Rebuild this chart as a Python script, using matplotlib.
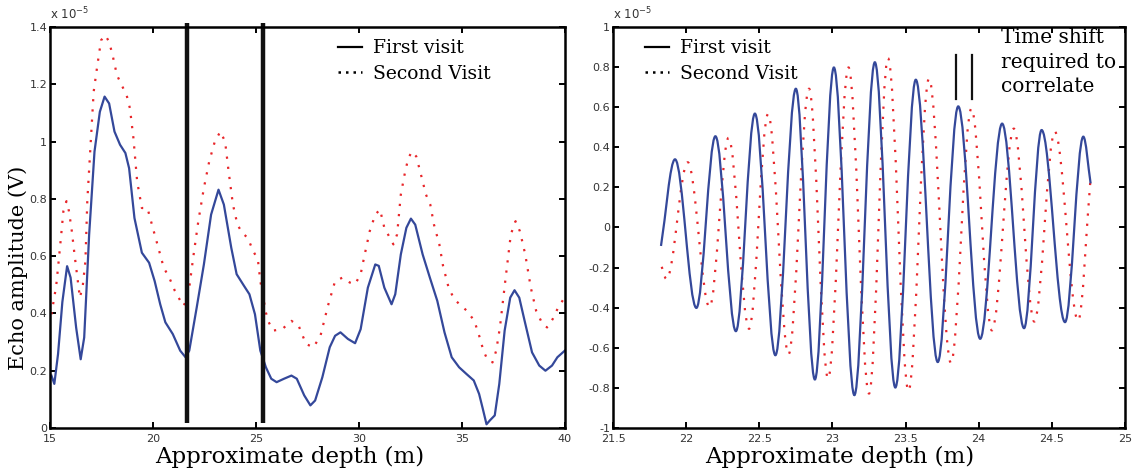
import numpy as np
import matplotlib
matplotlib.use("Agg")
import matplotlib.pyplot as plt
from matplotlib.path import Path
from matplotlib.patches import PathPatch
from matplotlib.lines import Line2D
from matplotlib.ticker import FuncFormatter, MultipleLocator

#########################
# Data (amplitudes in units of 1e-5 V)
# left panel, first visit (solid blue)
depth_first = [15.07, 15.21, 15.39, 15.6, 15.83, 16.0, 16.27, 16.49, 16.66, 16.9,
               17.16, 17.42, 17.65, 17.87, 18.13, 18.4, 18.66, 18.84, 19.1, 19.46,
               19.81, 20.08, 20.35, 20.6, 20.96, 21.32, 21.58, 21.76, 22.12, 22.47,
               22.82, 23.18, 23.44, 23.8, 24.06, 24.42, 24.68, 24.95, 25.21, 25.48,
               25.74, 26.0, 26.36, 26.72, 26.98, 27.34, 27.64, 27.87, 28.22, 28.58,
               28.84, 29.1, 29.46, 29.81, 30.08, 30.43, 30.79, 30.96, 31.23, 31.58,
               31.76, 32.03, 32.3, 32.52, 32.73, 33.09, 33.44, 33.8, 34.15, 34.5,
               34.86, 35.21, 35.57, 35.83, 36.01, 36.19, 36.36, 36.59, 36.81, 37.07,
               37.34, 37.55, 37.78, 38.04, 38.4, 38.75, 39.05, 39.37, 39.63, 39.99]
amp_first = [0.183, 0.154, 0.258, 0.44, 0.565, 0.525, 0.35, 0.24, 0.316, 0.675,
             0.965, 1.104, 1.157, 1.133, 1.035, 0.989, 0.96, 0.907, 0.733, 0.612,
             0.577, 0.513, 0.432, 0.369, 0.328, 0.27, 0.247, 0.27, 0.42, 0.571,
             0.745, 0.832, 0.78, 0.629, 0.537, 0.496, 0.467, 0.397, 0.27, 0.212,
             0.172, 0.16, 0.172, 0.183, 0.172, 0.114, 0.079, 0.096, 0.177, 0.282,
             0.322, 0.334, 0.311, 0.296, 0.345, 0.49, 0.571, 0.566, 0.49, 0.432,
             0.467, 0.606, 0.699, 0.731, 0.71, 0.606, 0.525, 0.444, 0.334, 0.247,
             0.212, 0.189, 0.166, 0.119, 0.067, 0.013, 0.027, 0.044, 0.154, 0.34,
             0.455, 0.481, 0.455, 0.374, 0.264, 0.218, 0.2, 0.218, 0.247, 0.27]

# left panel, second visit (dotted red)
depth_second = [15.07, 15.3, 15.39, 15.53, 15.65, 15.8, 15.92, 16.06, 16.19, 16.33,
                16.45, 16.59, 16.72, 16.81, 16.95, 17.12, 17.3, 17.48, 17.69, 17.87,
                18.04, 18.25, 18.48, 18.72, 18.88, 19.05, 19.23, 19.46, 19.73, 19.99,
                20.26, 20.52, 20.79, 21.06, 21.33, 21.5, 21.76, 21.94, 22.2, 22.47,
                22.73, 23.0, 23.27, 23.5, 23.67, 23.88, 24.1, 24.33, 24.6, 24.86,
                25.09, 25.21, 25.48, 25.62, 25.83, 26.27, 26.72, 27.07, 27.43, 27.79,
                28.13, 28.49, 28.84, 29.2, 29.55, 29.81, 30.08, 30.26, 30.52, 30.79,
                31.02, 31.23, 31.5, 31.67, 31.85, 32.03, 32.21, 32.39, 32.57, 32.78,
                33.01, 33.25, 33.46, 33.64, 33.9, 34.08, 34.35, 34.62, 34.88, 35.24,
                35.6, 35.86, 36.04, 36.22, 36.48, 36.66, 36.84, 37.1, 37.37, 37.6,
                37.81, 38.07, 38.34, 38.6, 38.87, 39.13, 39.4, 39.67, 39.93]
amp_second = [0.397, 0.496, 0.56, 0.664, 0.757, 0.792, 0.757, 0.687, 0.606, 0.525,
              0.455, 0.496, 0.583, 0.792, 0.965, 1.174, 1.267, 1.354, 1.371, 1.348,
              1.301, 1.232, 1.197, 1.162, 1.116, 1.012, 0.861, 0.768, 0.768, 0.699,
              0.629, 0.56, 0.525, 0.479, 0.444, 0.426, 0.49, 0.589, 0.722, 0.838,
              0.931, 1.0, 1.035, 1.0, 0.896, 0.78, 0.71, 0.681, 0.664, 0.618,
              0.589, 0.513, 0.403, 0.369, 0.34, 0.345, 0.374, 0.357, 0.293, 0.282,
              0.322, 0.426, 0.513, 0.525, 0.508, 0.502, 0.537, 0.6, 0.687, 0.745,
              0.763, 0.699, 0.664, 0.641, 0.676, 0.815, 0.884, 0.942, 0.965, 0.948,
              0.884, 0.815, 0.78, 0.71, 0.641, 0.566, 0.49, 0.45, 0.432, 0.409,
              0.374, 0.316, 0.27, 0.241, 0.229, 0.27, 0.351, 0.513, 0.676, 0.722,
              0.687, 0.606, 0.49, 0.409, 0.369, 0.351, 0.38, 0.421, 0.45]

# left panel, window markers
window_depths = [21.67, 25.35]

# right panel: start, peaks/troughs, end of each trace
wave_first_x = [21.828, 21.924, 22.07, 22.20, 22.34, 22.47, 22.61, 22.75, 22.88,
                23.01, 23.15, 23.29, 23.43, 23.57, 23.72, 23.86, 24.01, 24.16,
                24.31, 24.43, 24.59, 24.715, 24.765]
wave_first_y = [-0.092, 0.34, -0.401, 0.455, -0.517, 0.568, -0.637, 0.692, -0.758,
                0.798, -0.836, 0.824, -0.798, 0.737, -0.671, 0.604, -0.555, 0.518,
                -0.502, 0.486, -0.472, 0.453, 0.22]
wave_second_x = [21.833, 21.866, 22.011, 22.16, 22.29, 22.43, 22.56, 22.70, 22.84,
                 22.97, 23.11, 23.25, 23.38, 23.52, 23.66, 23.81, 23.95, 24.09,
                 24.24, 24.38, 24.52, 24.68, 24.765]
wave_second_y = [-0.196, -0.258, 0.325, -0.397, 0.447, -0.505, 0.566, -0.632, 0.692,
                 -0.753, 0.798, -0.828, 0.844, -0.815, 0.742, -0.675, 0.593, -0.513,
                 0.493, -0.469, 0.478, -0.464, 0.25]

shift_marks = [23.845, 23.952]
#########################

BLUE = "#34489a"
RED = "#e8262a"
SERIF = "DejaVu Serif"
DOTS = (0, (1, 3.6))

plt.rcParams['axes.unicode_minus'] = False
plt.rcParams['xtick.direction'] = 'in'
plt.rcParams['ytick.direction'] = 'in'


def wave_path(xs, ys, k=0.35):
    # cubic segments between turning points, flat tangent at each turning point
    n = len(xs)
    verts = [(xs[0], ys[0])]
    codes = [Path.MOVETO]
    for i in range(n - 1):
        x0, y0, x1, y1 = xs[i], ys[i], xs[i + 1], ys[i + 1]
        dx = x1 - x0
        if i == 0:
            c1 = (x0 + dx / 3, y0 + (y1 - y0) / 3)
        else:
            c1 = (x0 + k * dx, y0)
        if i + 1 == n - 1:
            c2 = (x1 - dx / 3, y1 - (y1 - y0) / 3)
        else:
            c2 = (x1 - k * dx, y1)
        verts += [c1, c2, (x1, y1)]
        codes += [Path.CURVE4] * 3
    return Path(verts, codes)


def style_axes(ax, label_x):
    for sp in ax.spines.values():
        sp.set_linewidth(1.8)
    ax.xaxis.set_ticks_position('both')
    ax.yaxis.set_ticks_position('both')
    ax.tick_params(length=4, width=1.4, labelsize=8, labelcolor="#333333")
    ax.tick_params(axis="x", pad=4)
    ax.tick_params(axis="y", pad=2)
    fmt = FuncFormatter(lambda v, p: "{:g}".format(round(v, 6)))
    ax.xaxis.set_major_formatter(fmt)
    ax.yaxis.set_major_formatter(fmt)
    ax.text(0.0, 1.012, r"x 10$^{-5}$", transform=ax.transAxes, fontsize=8.5,
            color="#333333", ha="left", va="bottom")
    ax.set_xlabel("Approximate depth (m)", fontsize=16.5, family=SERIF)
    ax.xaxis.set_label_coords(label_x, -0.045, transform=ax.transAxes)
    ax.xaxis.label.set_va("top")


fig = plt.figure(figsize=(11.32, 4.72), dpi=100)
ax1 = fig.add_axes([50 / 1132, 44 / 472, 515 / 1132, 401 / 472])
ax2 = fig.add_axes([613 / 1132, 44 / 472, 512 / 1132, 401 / 472])

# left panel
ax1.plot(depth_second, amp_second, color=RED, lw=1.6, ls=DOTS)
ax1.plot(depth_first, amp_first, color=BLUE, lw=1.6)
for d in window_depths:
    ax1.plot([d, d], [0.018, 1.415], color="#111111", lw=3.2, clip_on=False,
             solid_capstyle="butt")
ax1.set_xlim(15, 40)
ax1.set_ylim(0, 1.4)
ax1.xaxis.set_major_locator(MultipleLocator(5))
ax1.yaxis.set_major_locator(MultipleLocator(0.2))
style_axes(ax1, 0.466)
ax1.set_ylabel("Echo amplitude (V)", fontsize=15, family=SERIF)
ax1.yaxis.set_label_coords(-0.043, 0.399)

# right panel
ax2.add_patch(PathPatch(wave_path(wave_second_x, wave_second_y), fill=False,
                        edgecolor=RED, lw=1.6, ls=DOTS))
ax2.add_patch(PathPatch(wave_path(wave_first_x, wave_first_y), fill=False,
                        edgecolor=BLUE, lw=1.6))
for d in shift_marks:
    ax2.plot([d, d], [0.64, 0.86], color="#111111", lw=1.6)
ax2.text(24.15, 0.995, "Time shift\nrequired to\ncorrelate", fontsize=14.5,
         family=SERIF, va="top", ha="left", linespacing=1.38)
ax2.set_xlim(21.5, 25)
ax2.set_ylim(-1, 1)
ax2.xaxis.set_major_locator(MultipleLocator(0.5))
ax2.yaxis.set_major_locator(MultipleLocator(0.2))
style_axes(ax2, 0.443)

# legends use black proxies
handles = [Line2D([], [], color="black", lw=1.6),
           Line2D([], [], color="black", lw=1.8, ls=(0, (1, 2)))]
labels = ["First visit", "Second Visit"]
for ax, x0 in ((ax1, 0.526), (ax2, 0.029)):
    ax.legend(handles, labels, loc="upper left", bbox_to_anchor=(x0, 1.012),
              frameon=False, handlelength=1.3, handletextpad=0.6,
              labelspacing=0.4, prop={"family": SERIF, "size": 13.5})

fig.savefig("out.png", dpi=100)
